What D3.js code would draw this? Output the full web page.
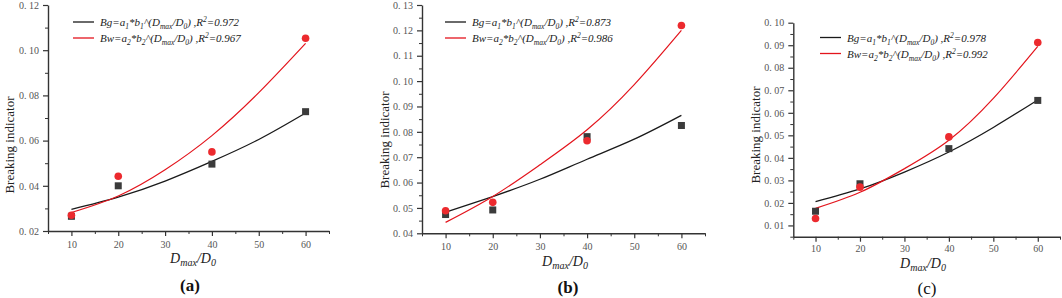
<!DOCTYPE html>
<html>
<head>
<meta charset="utf-8">
<script src="https://cdn.jsdelivr.net/npm/d3@7"></script>
<style>
  body { margin: 0; background: #fff; }
  svg { display: block; }
  .tick text { font-family: "Liberation Serif", serif; font-size: 10px; fill: #555; }
  .legend text { font-family: "Liberation Serif", serif; font-style: italic; font-size: 11px; fill: #222; }
</style>
</head>
<body>
<svg width="1062" height="298"></svg>
<script>
// measured x positions
const dataX = [10, 20, 40, 60];
const fitX = [10, 20, 30, 40, 50, 60];

// panel (a)
const bgA = [0.0265, 0.0400, 0.0496, 0.0728];
const bwA = [0.0270, 0.0442, 0.0550, 0.1053];
const bgFitA = [0.0296, 0.0350, 0.0421, 0.0508, 0.0605, 0.0722];
const bwFitA = [0.0282, 0.0355, 0.0471, 0.0622, 0.0812, 0.1030];
const r2A = ["0.972", "0.967"];

// panel (b)
const bgB = [0.0474, 0.0492, 0.0781, 0.0825];
const bwB = [0.0489, 0.0522, 0.0765, 0.1219];
const bgFitB = [0.0483, 0.0545, 0.0613, 0.0692, 0.0771, 0.0865];
const bwFitB = [0.0443, 0.0545, 0.0670, 0.0808, 0.0986, 0.1200];
const r2B = ["0.873", "0.986"];

// panel (c)
const bgC = [0.0163, 0.0285, 0.0441, 0.0655];
const bwC = [0.0131, 0.0270, 0.0493, 0.0912];
const bgFitC = [0.0206, 0.0262, 0.0337, 0.0426, 0.0535, 0.0657];
const bwFitC = [0.0176, 0.0247, 0.0352, 0.0478, 0.0664, 0.0895];
const r2C = ["0.978", "0.992"];

const xTicks = [10, 20, 30, 40, 50, 60];
const yTicksA = [0.02, 0.04, 0.06, 0.08, 0.10, 0.12];
const yTicksB = [0.04, 0.05, 0.06, 0.07, 0.08, 0.09, 0.10, 0.11, 0.12, 0.13];
const yTicksC = [0.01, 0.02, 0.03, 0.04, 0.05, 0.06, 0.07, 0.08, 0.09, 0.10];

const svg = d3.select("svg");

const panels = [
  { label: "(a)", bold: true, bg: bgA, bw: bwA, bgFit: bgFitA, bwFit: bwFitA, r2: r2A,
    yDomain: [0.02, 0.12], yTicks: yTicksA, yMinor: 0.01,
    x0: 48, x1: 329, y0: 231, y1: 5,
    legend: [73, 22], titleX: 9, titleY: 145, xTitle: [193, 263], lab: [190, 291], tickY: 248 },
  { label: "(b)", bold: true, bg: bgB, bw: bwB, bgFit: bgFitB, bwFit: bwFitB, r2: r2B,
    yDomain: [0.04, 0.13], yTicks: yTicksB, yMinor: 0.005,
    x0: 422, x1: 705, y0: 233.3, y1: 5,
    legend: [445, 22], titleX: 384, titleY: 140, xTitle: [565, 266], lab: [568, 293], tickY: 250 },
  { label: "(c)", bold: false, bg: bgC, bw: bwC, bgFit: bgFitC, bwFit: bwFitC, r2: r2C,
    yDomain: [0.005, 0.10], yTicks: yTicksC, yMinor: 0.005,
    x0: 793.3, x1: 1060, y0: 236.7, y1: 22.7,
    legend: [820, 37.5], titleX: 755, titleY: 135, xTitle: [923, 268], lab: [927, 294], tickY: 252 }
];

panels.forEach((p) => {
  const g = svg.append("g");

  // prettier-ignore
  const x = d3.scaleLinear()
    .domain([5, 65])
    .range([p.x0, p.x1])

  // prettier-ignore
  const y = d3.scaleLinear()
    .domain(p.yDomain)
    .range([p.y0, p.y1])

  // minor ticks
  const xMinor = d3.range(5, 66, 5).filter((v) => v % 10 !== 0);
  const yMinorVals = d3.range(p.yDomain[0], p.yDomain[1] + 1e-9, p.yMinor)
    .filter((v) => !p.yTicks.some((t) => Math.abs(t - v) < 1e-6));

  // prettier-ignore
  g.append("g")
    .attr("transform", `translate(0, ${p.y0})`)
    .call(d3.axisBottom(x).tickValues(xMinor).tickSize(3).tickFormat(""))
    .call((a) => a.select(".domain").remove())
    .selectAll("line").attr("stroke", "#333")

  // prettier-ignore
  g.append("g")
    .attr("transform", `translate(${p.x0}, 0)`)
    .call(d3.axisLeft(y).tickValues(yMinorVals).tickSize(3).tickFormat(""))
    .call((a) => a.select(".domain").remove())
    .selectAll("line").attr("stroke", "#333")

  // prettier-ignore
  const xAxis = g.append("g")
    .attr("transform", `translate(0, ${p.y0})`)
    .call(d3.axisBottom(x).tickValues(xTicks).tickSize(5).tickSizeOuter(0).tickPadding(8))
  xAxis.select(".domain").attr("stroke", "#333").attr("stroke-width", 1.4);
  xAxis.selectAll("line").attr("stroke", "#333").attr("stroke-width", 1.2);
  xAxis.selectAll("text").attr("y", p.tickY - p.y0).attr("dy", 0);

  // prettier-ignore
  const yAxis = g.append("g")
    .attr("transform", `translate(${p.x0}, 0)`)
    .call(d3.axisLeft(y).tickValues(p.yTicks).tickSize(5).tickSizeOuter(0).tickPadding(4)
      .tickFormat((d) => d3.format(".2f")(d).replace(".", ". ")))
  yAxis.select(".domain").attr("stroke", "#333").attr("stroke-width", 1.4);
  yAxis.selectAll("line").attr("stroke", "#333").attr("stroke-width", 1.2);

  // axis titles
  g.append("text")
    .attr("transform", `translate(${p.titleX}, ${p.titleY}) rotate(-90)`)
    .attr("text-anchor", "middle")
    .attr("dy", "0.35em")
    .style("font-family", "'Liberation Serif', serif")
    .style("font-size", "13px")
    .style("fill", "#222")
    .text("Breaking indicator");

  const xt = g.append("text")
    .attr("x", p.xTitle[0]).attr("y", p.xTitle[1])
    .attr("text-anchor", "middle")
    .style("font-family", "'Liberation Serif', serif")
    .style("font-style", "italic")
    .style("font-size", "14px")
    .style("fill", "#222");
  xt.append("tspan").text("D");
  xt.append("tspan").attr("dy", 3).style("font-size", "10px").text("max");
  xt.append("tspan").attr("dy", -3).text("/D");
  xt.append("tspan").attr("dy", 3).style("font-size", "10px").text("0");

  g.append("text")
    .attr("x", p.lab[0]).attr("y", p.lab[1])
    .attr("text-anchor", "middle")
    .style("font-family", "'Liberation Serif', serif")
    .style("font-weight", p.bold ? "bold" : "normal")
    .style("font-size", "17px")
    .style("fill", "#111")
    .text(p.label);

  // fit curves
  // prettier-ignore
  const line = d3.line()
    .x((d, i) => x(fitX[i]))
    .y((d) => y(d))
    .curve(d3.curveNatural)

  g.append("path").attr("d", line(p.bgFit)).attr("fill", "none")
    .attr("stroke", "#1a1a1a").attr("stroke-width", 1.3);
  g.append("path").attr("d", line(p.bwFit)).attr("fill", "none")
    .attr("stroke", "#e3141c").attr("stroke-width", 1.2);

  // points
  // prettier-ignore
  g.selectAll("rect.bg")
    .data(p.bg)
    .enter()
    .append("rect")
    .attr("class", "bg")
    .attr("x", (d, i) => x(dataX[i]) - 3.5)
    .attr("y", (d) => y(d) - 3.5)
    .attr("width", 7)
    .attr("height", 7)
    .attr("fill", "#3b3b3b")

  // prettier-ignore
  g.selectAll("circle.bw")
    .data(p.bw)
    .enter()
    .append("circle")
    .attr("class", "bw")
    .attr("cx", (d, i) => x(dataX[i]))
    .attr("cy", (d) => y(d))
    .attr("r", 3.8)
    .attr("fill", "#ec2a2e")

  // legend
  const lg = g.append("g").attr("class", "legend");
  const items = [
    { name: "Bg", a: "a", b: "b", idx: "1", color: "#1a1a1a", r2: p.r2[0] },
    { name: "Bw", a: "a", b: "b", idx: "2", color: "#e3141c", r2: p.r2[1] }
  ];
  items.forEach((it, i) => {
    const ly = p.legend[1] + i * 16;
    lg.append("line")
      .attr("x1", p.legend[0]).attr("x2", p.legend[0] + 21)
      .attr("y1", ly).attr("y2", ly)
      .attr("stroke", it.color).attr("stroke-width", 1.3);
    const t = lg.append("text").attr("x", p.legend[0] + 27).attr("y", ly + 4);
    t.append("tspan").text(`${it.name}=${it.a}`);
    t.append("tspan").attr("dy", 3).style("font-size", "7.5px").text(it.idx);
    t.append("tspan").attr("dy", -3).text(`*${it.b}`);
    t.append("tspan").attr("dy", 3).style("font-size", "7.5px").text(it.idx);
    t.append("tspan").attr("dy", -3).text("^(D");
    t.append("tspan").attr("dy", 3).style("font-size", "7.5px").text("max");
    t.append("tspan").attr("dy", -3).text("/D");
    t.append("tspan").attr("dy", 3).style("font-size", "7.5px").text("0");
    t.append("tspan").attr("dy", -3).text(") ,R");
    t.append("tspan").attr("dy", -4).style("font-size", "7.5px").text("2");
    t.append("tspan").attr("dy", 4).text(`=${it.r2}`);
  });
});
</script>
</body>
</html>
